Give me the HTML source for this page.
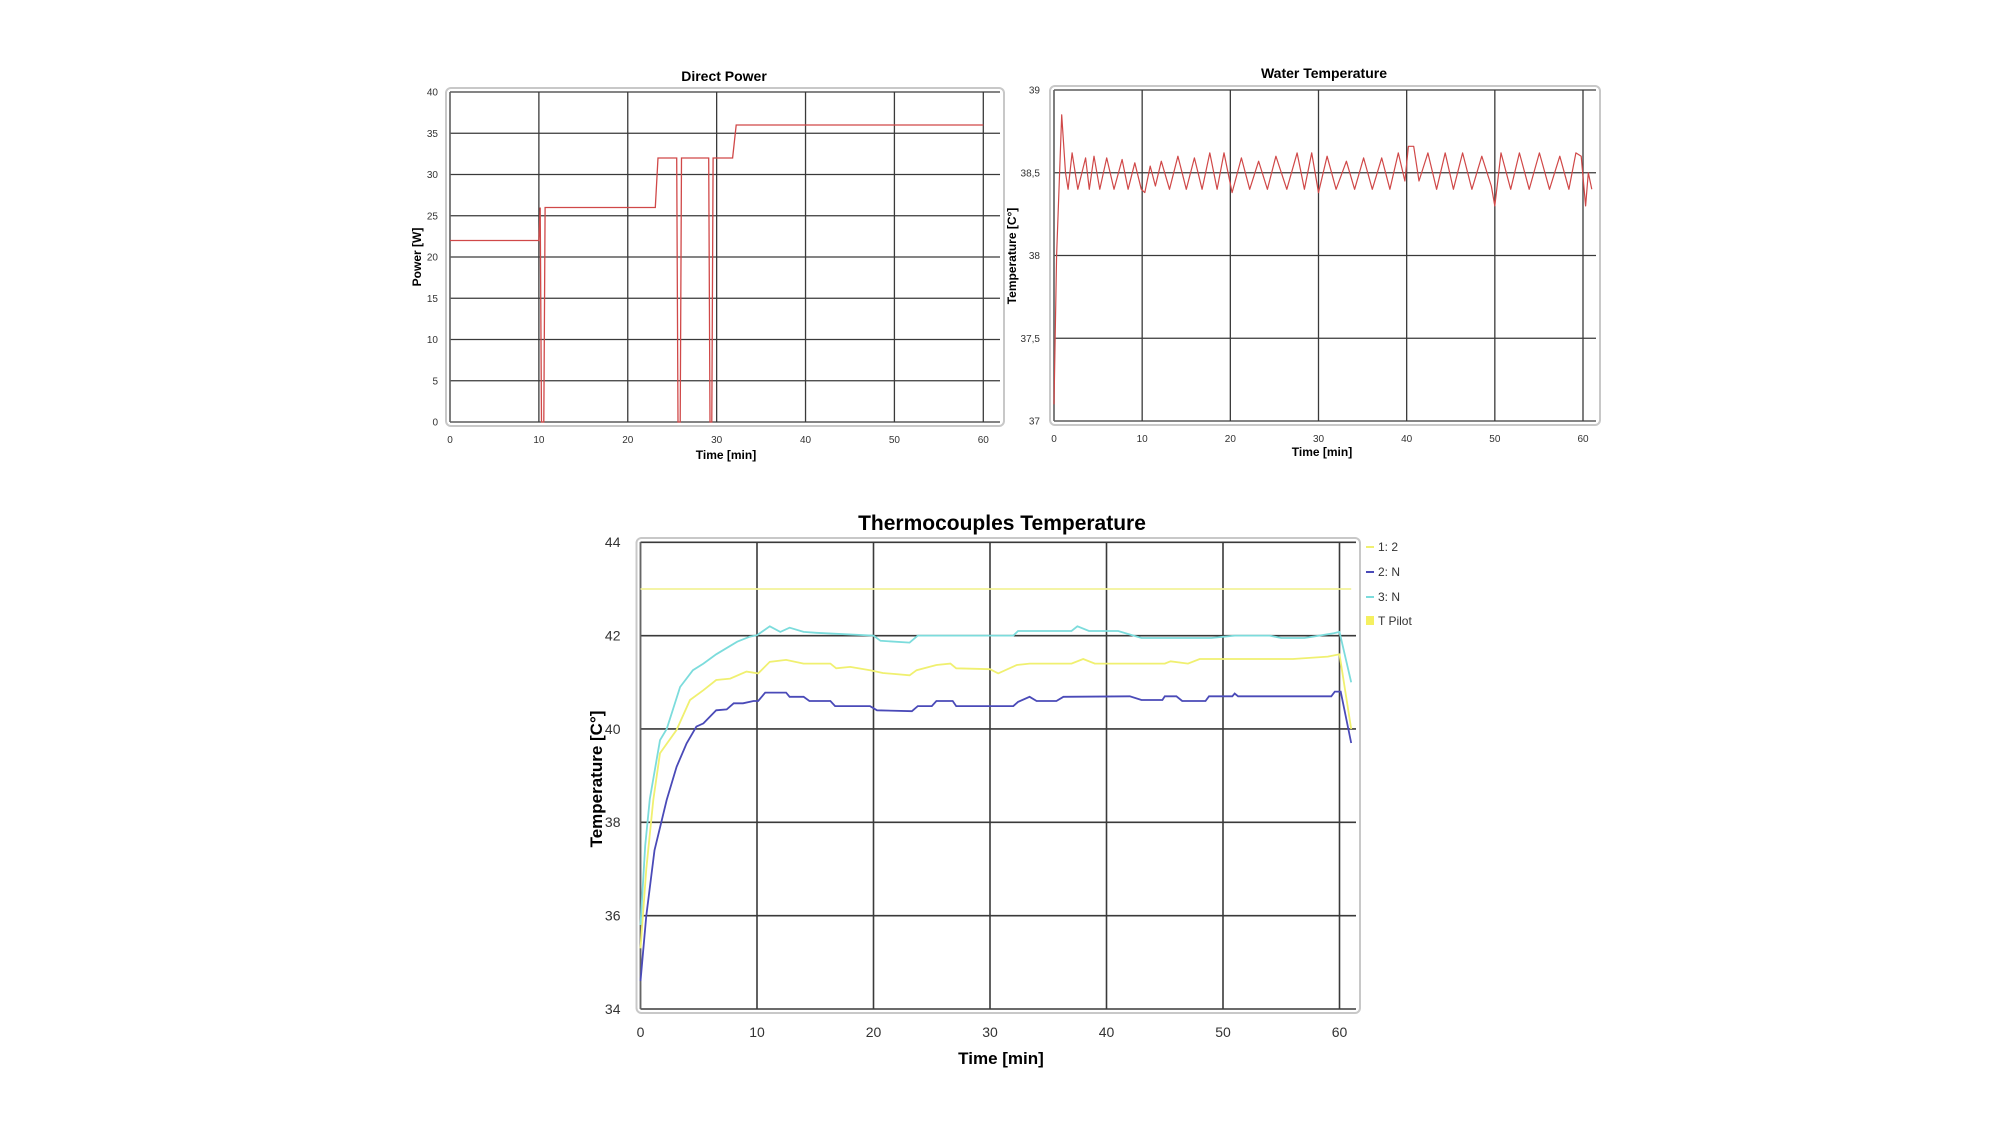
<!DOCTYPE html>
<html><head><meta charset="utf-8"><style>
html,body{margin:0;padding:0;background:#fff;}
body{width:2008px;height:1136px;overflow:hidden;font-family:"Liberation Sans",sans-serif;}
svg text{font-family:"Liberation Sans",sans-serif;}
</style></head><body>
<svg id="root" width="2008" height="1136" viewBox="0 0 2008 1136" xmlns="http://www.w3.org/2000/svg"></svg>
<script>
// ---- Direct Power data ----
const powerTimes = [0,10,10.15,10.3,10.55,10.7,23.1,23.4,25.5,25.65,25.9,26.05,29.1,29.25,29.45,29.6,31.8,32.2,60];
const powerValues = [22,22,26,0,0,26,26,32,32,0,0,32,32,0,0,32,32,36,36];
const powerYTicks = [0,5,10,15,20,25,30,35,40];
const powerXTicks = [0,10,20,30,40,50,60];

// ---- Water Temperature data ----
const waterTimes = [0,0.3,0.87,1.3,1.6,2.05,2.7,3.58,4.0,4.54,5.2,5.98,6.8,7.72,8.4,9.16,9.9,10.3,10.91,11.5,12.17,13.1,14.05,15.0,15.93,16.8,17.67,18.5,19.28,20.2,21.25,22.2,23.21,24.2,25.17,26.4,27.57,28.4,29.23,30.0,30.98,32.0,33.16,34.1,35.12,36.1,37.17,38.1,39.05,39.8,40.2,40.8,41.4,42.41,43.4,44.37,45.3,46.34,47.4,48.52,49.6,50.0,50.7,51.8,52.79,53.9,55.06,56.2,57.37,58.4,59.2,59.8,60.3,60.6,61];
const waterValues = [37.1,38.0,38.85,38.5,38.4,38.62,38.4,38.59,38.4,38.6,38.4,38.59,38.4,38.58,38.4,38.56,38.4,38.38,38.54,38.42,38.57,38.4,38.6,38.4,38.59,38.4,38.62,38.4,38.62,38.38,38.59,38.4,38.57,38.4,38.6,38.4,38.62,38.4,38.62,38.38,38.6,38.4,38.57,38.4,38.59,38.4,38.59,38.4,38.62,38.45,38.66,38.66,38.45,38.62,38.4,38.62,38.4,38.62,38.4,38.6,38.42,38.3,38.62,38.4,38.62,38.4,38.62,38.4,38.6,38.4,38.62,38.6,38.3,38.5,38.4];
const waterYTicks = [37,37.5,38,38.5,39];
const waterYLabels = ["37","37,5","38","38,5","39"];
const waterXTicks = [0,10,20,30,40,50,60];

// ---- Thermocouples data ----
const tcTimes1 = [0,0.5,1.1,1.67,3.1,4.25,5.4,6.5,7.7,9.1,10.1,11.1,12.5,14,16.3,16.8,18,19.7,20.8,23.1,23.7,25.4,26.6,27.1,30,30.7,32.3,33.4,37,38,39,45,45.5,47,48,56,59,60,61];
const tcValues1 = [35.3,37.0,38.48,39.48,39.98,40.62,40.83,41.05,41.08,41.23,41.19,41.44,41.48,41.4,41.4,41.3,41.33,41.26,41.2,41.15,41.26,41.37,41.4,41.3,41.28,41.19,41.37,41.4,41.4,41.5,41.4,41.4,41.45,41.4,41.5,41.5,41.55,41.6,40.0];
const tcTimes2 = [0,0.5,1.2,2.25,3.1,3.96,4.8,5.4,6.5,7.4,8,8.8,9.7,10.1,10.7,12.5,12.8,14,14.5,16.3,16.7,19.7,20.3,23.3,23.8,25,25.4,26.8,27.1,32,32.4,33.4,34,35.7,36.3,42,43,44.8,45,46,46.5,48.5,48.8,50.8,51,51.3,59.3,59.6,60.1,61];
const tcValues2 = [34.6,36.0,37.4,38.48,39.19,39.69,40.05,40.12,40.4,40.42,40.55,40.55,40.6,40.6,40.78,40.78,40.69,40.69,40.6,40.6,40.49,40.49,40.4,40.38,40.49,40.49,40.6,40.6,40.49,40.49,40.58,40.69,40.6,40.6,40.69,40.7,40.62,40.62,40.7,40.7,40.6,40.6,40.7,40.7,40.76,40.7,40.7,40.8,40.8,39.7];
const tcTimes3 = [0,0.4,0.8,1.67,2.25,3.4,4.5,5.4,6.5,8.3,9.4,10,11.1,12,12.8,14,15.1,20,20.6,23.1,23.8,32,32.4,37,37.5,38.5,41,43,49,51,54,55,57,59.5,60,61];
const tcValues3 = [35.8,37.5,38.5,39.76,40.0,40.9,41.26,41.4,41.6,41.87,41.98,42.01,42.2,42.08,42.17,42.08,42.06,42.0,41.89,41.85,42.0,42.0,42.1,42.1,42.2,42.1,42.1,41.95,41.95,42.0,42.0,41.95,41.95,42.05,42.08,41.0];
const tcPilotTimes = [0,61];
const tcPilotValues = [43,43];
const tcYTicks = [34,36,38,40,42,44];
const tcXTicks = [0,10,20,30,40,50,60];
const legendLabels = ["1: 2","2: N","3: N","T Pilot"];

const NS = "http://www.w3.org/2000/svg";
const root = document.getElementById('root');
function mk(tag, attrs, parent, text){
  const e = document.createElementNS(NS, tag);
  for (const k in attrs) e.setAttribute(k, attrs[k]);
  if (text !== undefined) e.textContent = text;
  (parent || root).appendChild(e);
  return e;
}
function scale(d0,d1,r0,r1){ return v => r0 + (v-d0)/(d1-d0)*(r1-r0); }
function linePath(xs, ys, sx, sy){
  return xs.map((t,i)=>(i?'L':'M')+sx(t).toFixed(1)+','+sy(ys[i]).toFixed(1)).join(' ');
}

function drawFrame(g, cfg){
  const fr = mk('rect',{x:cfg.left-4,y:cfg.top-4,width:cfg.right-cfg.left+8,height:cfg.bottom-cfg.top+8,rx:5,fill:'none',stroke:'#c8c8c8','stroke-width':2},g);
  
  
}

function drawAxes(g, cfg, sx, sy){
  cfg.yTicks.forEach((v,i)=>{
    const y = sy(v);
    const l = mk('line',{x1:cfg.left,x2:cfg.right,y1:y,y2:y,stroke:'#3a3a3a','stroke-width':cfg.gw},g);
    
    
    const t = mk('text',{x:cfg.left-cfg.ylabOff,y:y+cfg.tickFs*0.35,'text-anchor':'end','font-size':cfg.tickFs,fill:'#333'},g,cfg.yLabels?cfg.yLabels[i]:String(v));
    
    
  });
  cfg.xTicks.forEach(v=>{
    const x = sx(v);
    const l = mk('line',{x1:x,x2:x,y1:cfg.top,y2:cfg.bottom,stroke:'#3a3a3a','stroke-width':cfg.gw},g);
    
    
    const t = mk('text',{x:x,y:cfg.bottom+cfg.xlabOff,'text-anchor':'middle','font-size':cfg.tickFs,fill:'#333'},g,String(v));
    
    
  });
  const ax = mk('line',{x1:cfg.left,x2:cfg.left,y1:cfg.top,y2:cfg.bottom,stroke:'#666','stroke-width':1.5},g);
  
  
  const tt = mk('text',{x:cfg.titleX,y:cfg.titleY,'text-anchor':'middle','font-size':cfg.titleFs,'font-weight':'bold',fill:'#000'},g,cfg.title);
  
  
  const xt = mk('text',{x:cfg.xtX,y:cfg.xtY,'text-anchor':'middle','font-size':cfg.axFs,'font-weight':'bold',fill:'#000'},g,'Time [min]');
  
  
  const yt = mk('text',{x:0,y:0,'text-anchor':'middle','font-size':cfg.axFs,'font-weight':'bold',fill:'#000',transform:'translate('+cfg.ytX+','+cfg.ytY+') rotate(-90)'},g,cfg.yTitle);
  
  
}

// Chart 1
(function(){
  const g = mk('g',{});  
  const cfg = {left:450,right:1000,top:92,bottom:422,yTicks:powerYTicks,xTicks:powerXTicks,gw:1.3,tickFs:10,ylabOff:12,xlabOff:21,
    title:'Direct Power',titleX:724,titleY:81,titleFs:14,axFs:12,xtX:726,xtY:459,ytX:421,ytY:257,yTitle:'Power [W]'};
  drawFrame(g,cfg);
  const sx = scale(0,60,450,983.3), sy = scale(0,40,422,92);
  drawAxes(g,cfg,sx,sy);
  const p = mk('path',{d:linePath(powerTimes,powerValues,sx,sy),fill:'none',stroke:'#d04848','stroke-width':1.3},g);
  
  
})();

// Chart 2
(function(){
  const g = mk('g',{});  
  const cfg = {left:1054,right:1596,top:90,bottom:421,yTicks:waterYTicks,yLabels:waterYLabels,xTicks:waterXTicks,gw:1.3,tickFs:10,ylabOff:14,xlabOff:21,
    title:'Water Temperature',titleX:1324,titleY:78,titleFs:14,axFs:12,xtX:1322,xtY:456,ytX:1016,ytY:256,yTitle:'Temperature [C°]'};
  drawFrame(g,cfg);
  const sx = scale(0,60,1054,1583), sy = scale(37,39,421,90);
  drawAxes(g,cfg,sx,sy);
  const p = mk('path',{d:linePath(waterTimes,waterValues,sx,sy),fill:'none',stroke:'#d04848','stroke-width':1.2,'stroke-linejoin':'round'},g);
  
  
})();

// Chart 3
(function(){
  const g = mk('g',{});  
  const cfg = {left:640.5,right:1356,top:542,bottom:1009,yTicks:tcYTicks,xTicks:tcXTicks,gw:1.6,tickFs:14,ylabOff:20,xlabOff:28,
    title:'Thermocouples Temperature',titleX:1002,titleY:530,titleFs:21,axFs:17,xtX:1001,xtY:1064,ytX:602,ytY:779,yTitle:'Temperature [C°]'};
  drawFrame(g,cfg);
  const sx = scale(0,60,640.5,1339.5), sy = scale(34,44,1009,542.3);
  drawAxes(g,cfg,sx,sy);
  const series = [
    [tcPilotTimes,tcPilotValues,'#f2f29a','t-pilot-line'],
    [tcTimes1,tcValues1,'#f0f070','series-1-line'],
    [tcTimes2,tcValues2,'#4a4ab8','series-2-line'],
    [tcTimes3,tcValues3,'#7cdcdc','series-3-line']
  ];
  series.forEach(s=>{
    const p = mk('path',{d:linePath(s[0],s[1],sx,sy),fill:'none',stroke:s[2],'stroke-width':1.8},g);
    
    
  });
  const lg = mk('g',{},g);  
  const lcol = ['#f0f070','#4a4ab8','#7cdcdc','#f5f060'];
  const ly = [547,572,597,621];
  legendLabels.forEach((lab,i)=>{
    if (i<3){
      const m = mk('line',{x1:1366,x2:1374,y1:ly[i],y2:ly[i],stroke:lcol[i],'stroke-width':2},lg);
      
      
    } else {
      const m = mk('rect',{x:1366,y:ly[i]-5,width:8,height:9,fill:lcol[i]},lg);
      
      
    }
    const t = mk('text',{x:1378,y:ly[i]+4,'font-size':12,fill:'#333'},lg,lab);
    
    
  });
})();
</script>
</body></html>
